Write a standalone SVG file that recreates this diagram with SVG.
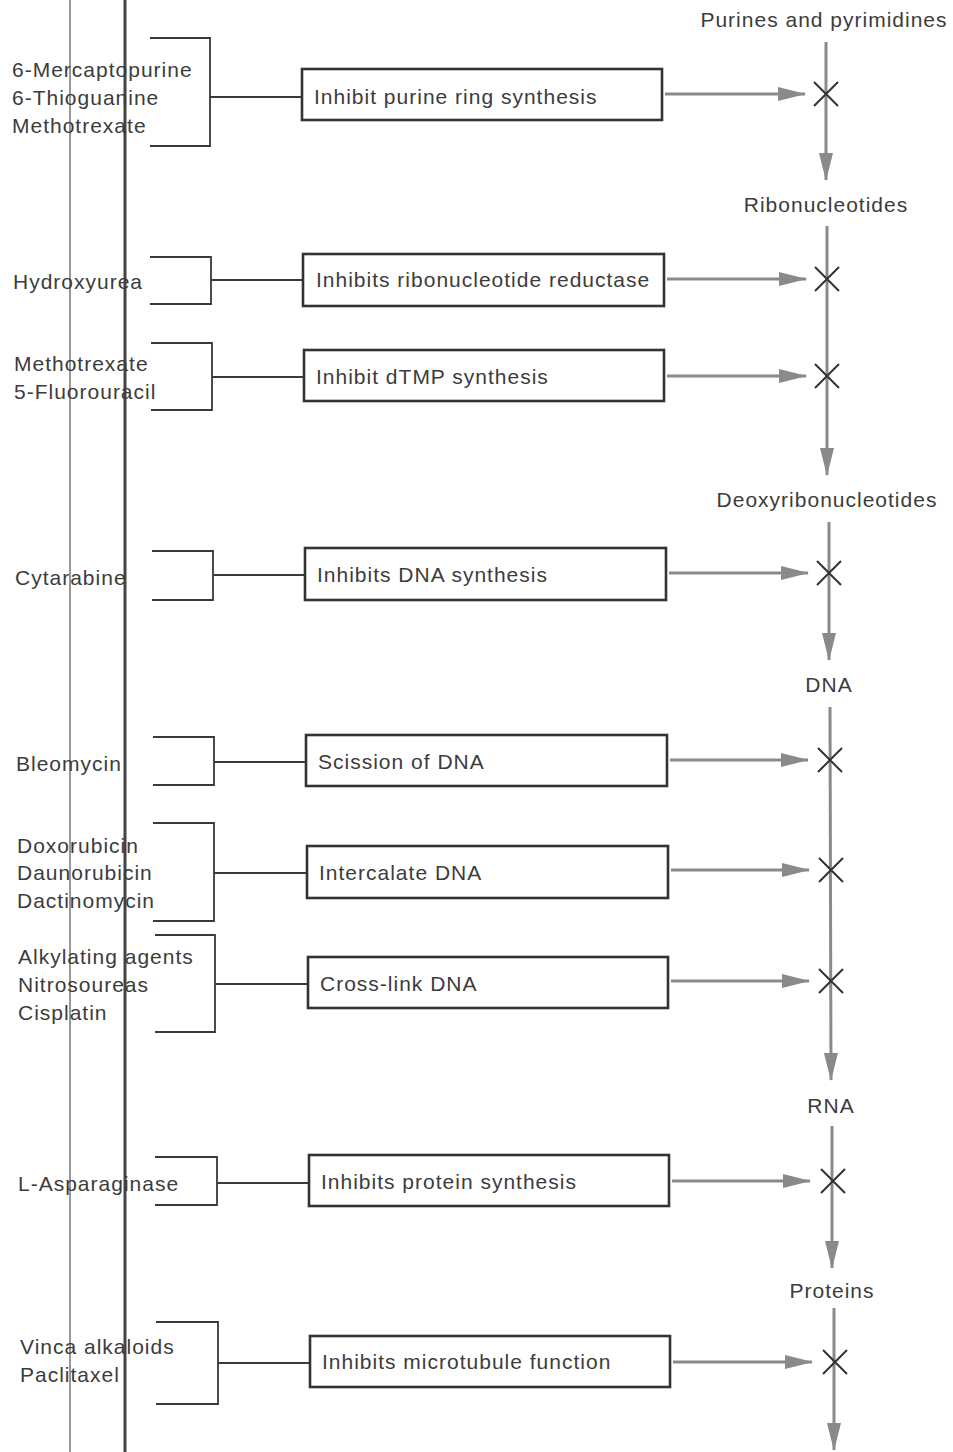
<svg xmlns="http://www.w3.org/2000/svg" width="953" height="1452" viewBox="0 0 953 1452">
<defs>
<marker id="ah" markerUnits="userSpaceOnUse" markerWidth="28" markerHeight="14" refX="27" refY="7" orient="auto">
<path d="M0,0 L28,7 L0,14 Z" fill="#8a8a8a"/>
</marker>
<style>
.t{font-family:"Liberation Sans",Arial,sans-serif;font-size:21px;letter-spacing:1px;fill:#3c3c3c}
.m{text-anchor:middle}
.box{fill:none;stroke:#333;stroke-width:2.6}
.br{fill:none;stroke:#3a3a3a;stroke-width:1.8}
.ar{fill:none;stroke:#8a8a8a;stroke-width:3;marker-end:url(#ah)}
.x{stroke:#333;stroke-width:2;fill:none}
</style>
</defs>
<rect width="953" height="1452" fill="#fff"/>
<g id="gutter">
<line x1="70" y1="0" x2="70" y2="1452" stroke="#999" stroke-width="2"/>
<line x1="125" y1="0" x2="125" y2="1452" stroke="#444" stroke-width="3"/>
</g>
<g id="pathway-labels">
<text class="t m" x="824" y="27">Purines and pyrimidines</text>
<text class="t m" x="826" y="212">Ribonucleotides</text>
<text class="t m" x="827" y="507">Deoxyribonucleotides</text>
<text class="t m" x="829" y="692">DNA</text>
<text class="t m" x="831" y="1113">RNA</text>
<text class="t m" x="832" y="1298">Proteins</text>
</g>
<g id="row1">
<text class="t" x="12" y="77">6-Mercaptopurine</text>
<text class="t" x="12" y="105">6-Thioguanine</text>
<text class="t" x="12" y="133">Methotrexate</text>
<path class="br" d="M150,38 H210 V146 H150 M210,97 H302"/>
<rect class="box" x="302" y="69" width="360" height="51"/>
<text class="t" x="314" y="104">Inhibit purine ring synthesis</text>
</g>
<g id="row2">
<text class="t" x="13" y="289">Hydroxyurea</text>
<path class="br" d="M150,257 H211 V304 H150 M211,280 H303"/>
<rect class="box" x="303" y="254" width="361" height="52"/>
<text class="t" x="316" y="287">Inhibits ribonucleotide reductase</text>
</g>
<g id="row3">
<text class="t" x="14" y="371">Methotrexate</text>
<text class="t" x="14" y="399">5-Fluorouracil</text>
<path class="br" d="M151,343 H212 V410 H151 M212,377 H304"/>
<rect class="box" x="304" y="350" width="360" height="51"/>
<text class="t" x="316" y="384">Inhibit dTMP synthesis</text>
</g>
<g id="row4">
<text class="t" x="15" y="585">Cytarabine</text>
<path class="br" d="M152,551 H213 V600 H152 M213,575 H305"/>
<rect class="box" x="305" y="548" width="361" height="52"/>
<text class="t" x="317" y="582">Inhibits DNA synthesis</text>
</g>
<g id="row5">
<text class="t" x="16" y="771">Bleomycin</text>
<path class="br" d="M153,737 H214 V785 H153 M214,762 H306"/>
<rect class="box" x="306" y="735" width="361" height="51"/>
<text class="t" x="318" y="769">Scission of DNA</text>
</g>
<g id="row6">
<text class="t" x="17" y="853">Doxorubicin</text>
<text class="t" x="17" y="880">Daunorubicin</text>
<text class="t" x="17" y="908">Dactinomycin</text>
<path class="br" d="M153,823 H214 V921 H153 M214,873 H307"/>
<rect class="box" x="307" y="846" width="361" height="52"/>
<text class="t" x="319" y="880">Intercalate DNA</text>
</g>
<g id="row7">
<text class="t" x="18" y="964">Alkylating agents</text>
<text class="t" x="18" y="992">Nitrosoureas</text>
<text class="t" x="18" y="1020">Cisplatin</text>
<path class="br" d="M155,935 H215 V1032 H155 M215,984 H308"/>
<rect class="box" x="308" y="957" width="360" height="51"/>
<text class="t" x="320" y="991">Cross-link DNA</text>
</g>
<g id="row8">
<text class="t" x="18" y="1191">L-Asparaginase</text>
<path class="br" d="M155,1157 H217 V1205 H155 M217,1183 H309"/>
<rect class="box" x="309" y="1155" width="360" height="51"/>
<text class="t" x="321" y="1189">Inhibits protein synthesis</text>
</g>
<g id="row9">
<text class="t" x="20" y="1354">Vinca alkaloids</text>
<text class="t" x="20" y="1382">Paclitaxel</text>
<path class="br" d="M156,1322 H218 V1404 H156 M218,1363 H310"/>
<rect class="box" x="310" y="1336" width="360" height="51"/>
<text class="t" x="322" y="1369">Inhibits microtubule function</text>
</g>
<g id="connectors">
<line class="ar" x1="826" y1="42" x2="826" y2="180"/>
<line class="ar" x1="827" y1="226" x2="827" y2="475"/>
<line class="ar" x1="829" y1="522" x2="829" y2="660"/>
<line class="ar" x1="830" y1="707" x2="831" y2="1080"/>
<line class="ar" x1="832" y1="1126" x2="832" y2="1268"/>
<line class="ar" x1="834" y1="1308" x2="834" y2="1450"/>
<line class="ar" x1="665" y1="94" x2="805" y2="94"/>
<line class="ar" x1="667" y1="279" x2="806" y2="279"/>
<line class="ar" x1="667" y1="376" x2="806" y2="376"/>
<line class="ar" x1="669" y1="573" x2="808" y2="573"/>
<line class="ar" x1="670" y1="760" x2="808" y2="760"/>
<line class="ar" x1="671" y1="870" x2="809" y2="870"/>
<line class="ar" x1="671" y1="981" x2="809" y2="981"/>
<line class="ar" x1="672" y1="1181" x2="810" y2="1181"/>
<line class="ar" x1="673" y1="1362" x2="812" y2="1362"/>
</g>
<g id="blocks">
<path class="x" d="M814,82 L838,106 M838,82 L814,106"/>
<path class="x" d="M815,267 L839,291 M839,267 L815,291"/>
<path class="x" d="M815,364 L839,388 M839,364 L815,388"/>
<path class="x" d="M817,561 L841,585 M841,561 L817,585"/>
<path class="x" d="M818,748 L842,772 M842,748 L818,772"/>
<path class="x" d="M819,858 L843,882 M843,858 L819,882"/>
<path class="x" d="M819,969 L843,993 M843,969 L819,993"/>
<path class="x" d="M821,1169 L845,1193 M845,1169 L821,1193"/>
<path class="x" d="M823,1350 L847,1374 M847,1350 L823,1374"/>
</g>
</svg>
